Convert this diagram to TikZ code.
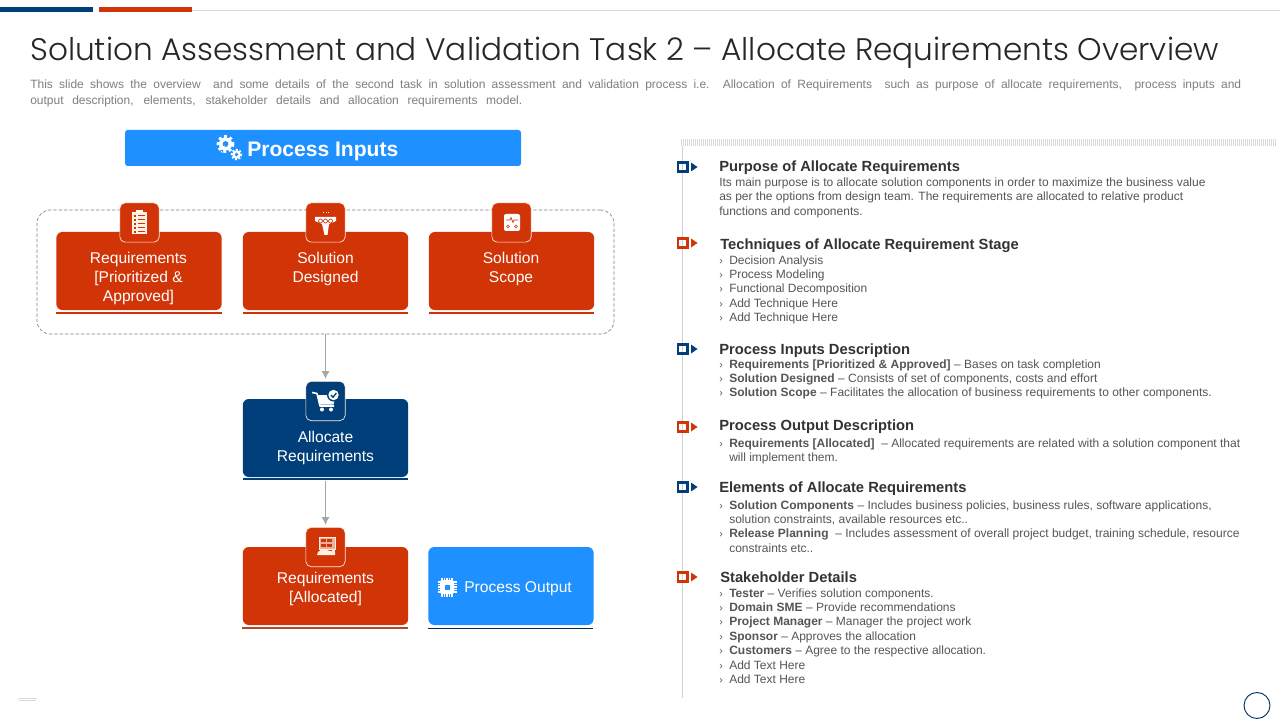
\documentclass[tikz,border=0pt]{standalone}
\usepackage{fontspec}
\setmainfont{Liberation Sans}
\newfontfamily\titlefont{Poppins Light}
\usetikzlibrary{arrows.meta}
\definecolor{navy}{HTML}{003F7A}
\definecolor{brick}{HTML}{D13407}
\definecolor{sky}{HTML}{1E90FF}
\definecolor{bodygray}{HTML}{555555}
\definecolor{headgray}{HTML}{333333}
\definecolor{introgray}{HTML}{7F7F7F}
\definecolor{linkgray}{HTML}{A6A6A6}
\definecolor{rust}{HTML}{B0492B}
\newcommand{\dsp}{\hspace{2.6pt}}
\tikzset{
 x=0.75pt,y=-0.75pt,
 box/.style={rounded corners=4.5pt,minimum width=124pt,minimum height=58.5pt,inner sep=0pt},
 tabbox/.style={rounded corners=4pt,minimum width=29.5pt,minimum height=29.5pt,inner sep=0pt,draw=white!85!orange,line width=0.5pt},
 boxlabel/.style={text=white,align=center,inner sep=0pt,font=\fontsize{11.7}{14.25}\selectfont},
 body/.style={anchor=base west,inner sep=0pt,text=bodygray,font=\fontsize{9}{11}\selectfont},
 heading/.style={anchor=base west,inner sep=0pt,text=headgray,font=\fontsize{11.05}{13}\selectfont\bfseries},
 bul/.style={anchor=base west,inner sep=0pt,text=bodygray,font=\fontsize{8}{10}\selectfont},
 link/.style={draw=linkgray,line width=0.8pt,-{Latex[length=6pt,width=6pt]}},
}
\newcommand{\itm}[3]{\node[bul] (#1b) at (719,#2) {›};\node[body] (#1) at (729,#2) {#3};}
\newcommand{\cont}[3]{\node[body] (#1) at (729,#2) {#3};}
\newcommand{\marker}[3]{\draw[#3,line width=1.8pt] (678,#2-4.5) rectangle (687.5,#2+4.5);\fill[#3] (691,#2-4.5) -- (697.5,#2) -- (691,#2+4.5) -- cycle;}
\newcommand{\gearicon}[4]{\draw[white,line width=#3*0.42pt,dash pattern=on #3*0.28pt off #3*0.28pt] (#1,#2) circle[radius=#3];\fill[white] (#1,#2) circle[radius=#3*0.95];\fill[#4] (#1,#2) circle[radius=#3*0.42];}
\begin{document}
\begin{tikzpicture}
\useasboundingbox (0,0) rectangle (1280,720);
\fill[white] (0,0) rectangle (1280,720);
% top rules
\draw[black!15,line width=0.8pt] (192,10.5) -- (1280,10.5);
\fill[navy] (0,7) rectangle (93,12.5);
\fill[brick] (99,7) rectangle (192,12.5);
% title
\node[anchor=base west,inner sep=0pt,text=black!85] (title) at (30,61) {\titlefont\fontsize{23.36}{28}\selectfont Solution Assessment and Validation Task 2 – Allocate Requirements Overview};
\node[anchor=base west,inner sep=0pt,text=introgray,font=\fontsize{9}{11}\selectfont] (introa) at (30,89) {\makebox[908.25pt][s]{This slide shows the overview\ \ and some details of the second task in solution assessment and validation process i.e. Allocation of Requirements\ \ such as purpose of allocate requirements,\ \ process inputs and}};
\node[anchor=base west,inner sep=0pt,text=introgray,font=\fontsize{9}{11}\selectfont] (introb) at (30,105) {\makebox[369pt][s]{output description, elements, stakeholder details and allocation requirements model.}};
% process inputs header
\node[fill=sky,rounded corners=2pt,minimum width=297pt,minimum height=27pt,inner sep=0pt] (hdr) at (323,148) {};
\node[anchor=base west,inner sep=0pt,text=white,font=\fontsize{15.8}{18}\selectfont\bfseries] (hdrtxt) at (247,157) {Process Inputs};
\gearicon{225.5}{144}{7}{sky}
\gearicon{236.5}{154.5}{4.5}{sky}
\draw[white,line width=0.6pt,dash pattern=on 1.5pt off 1pt] (222,153) arc[start angle=150,end angle=250,radius=5];
% dashed group
\node[draw=black!50,dash pattern=on 2.5pt off 1.5pt,line width=0.5pt,rounded corners=10pt,minimum width=432.75pt,minimum height=93pt,inner sep=0pt] (group) at (325.5,272) {};
% boxes
\node[box,fill=brick] (ra) at (139,271) {};
\node[box,fill=brick] (sd) at (325.5,271) {};
\node[box,fill=brick] (ss) at (511.5,271) {};
\fill[brick] (56,312.4) rectangle (222,313.6);
\fill[brick] (243,312.4) rectangle (408,313.6);
\fill[brick] (429,312.4) rectangle (594,313.6);
\node[tabbox,fill=brick] (ta) at (139.5,222.5) {};
\node[tabbox,fill=brick] (tb) at (325.5,222.5) {};
\node[tabbox,fill=brick] (tc) at (511.5,222.5) {};
\node[boxlabel] (la) at (138.5,278.5) {Requirements\\{[}Prioritized \&\\Approved{]}};
\node[boxlabel] (lb) at (325.5,269) {Solution\\Designed};
\node[boxlabel] (lc) at (511,269) {Solution\\Scope};
% clipboard icon
\fill[white!90!orange] (132,212) rectangle (147,234);
\fill[white] (136,210) rectangle (143,213);
\foreach \yy in {215,219,223,227,231}{\fill[brick] (134,\yy) rectangle (136,\yy+2);\fill[brick] (138,\yy) rectangle (145,\yy+1.2);}
% funnel icon
\fill[white] (315,217) -- (336,217) -- (336,221) -- (329,224) -- (327.5,235) -- (324.5,235) -- (322,224) -- (315,221) -- cycle;
\foreach \xx in {320.5,325.5,330.5}{\draw[brick,line width=0.5pt] (\xx,221) circle[radius=2];}
\fill[white] (323,212.5) rectangle (324,213.5);\fill[white] (325.5,212.5) rectangle (326.5,213.5);\fill[white] (328,212.5) rectangle (329,213.5);
% scope icon
\fill[white,rounded corners=1.5pt] (504,214) rectangle (520,231);
\draw[brick,line width=0.5pt] (506,220) -- (510,220) -- (511,217.5) -- (513,222.5) -- (514,220) -- (518,220);
\draw[brick,line width=0.5pt] (508,226.5) circle[radius=1.5] (516,226.5) circle[radius=1.5];
% allocate
\node[box,fill=navy] (alloc) at (325.5,438) {};
\fill[navy] (243,478.4) rectangle (408,479.6);
\node[tabbox,fill=navy] (talloc) at (325.5,401) {};
\node[boxlabel] (lalloc) at (325.5,448) {Allocate\\Requirements};
% cart
\draw[white,line width=1.2pt,line join=round] (312,392.5) -- (317,393.5) -- (320,406) -- (334,406);
\fill[white] (317,395) -- (336,395) -- (333.5,404.5) -- (319.5,404.5) -- cycle;
\fill[white] (322,409.5) circle[radius=2] (331,409.5) circle[radius=2];
\fill[navy] (333.5,395) circle[radius=6.5];
\fill[white] (333.5,395) circle[radius=5.2];
\draw[navy,line width=1pt] (331,395) -- (333,397.3) -- (336.3,393);
% allocated
\node[box,fill=brick] (rall) at (325.5,586) {};
\fill[rust] (242,626.6) rectangle (408,628.6);
\node[tabbox,fill=brick] (tall) at (325.5,547) {};
\node[boxlabel] (lrall) at (325.5,588.5) {Requirements\\{[}Allocated{]}};
% board icon
\draw[white!85!orange,line width=0.6pt,fill=brick!40!white] (319,537) rectangle (335,549);
\foreach \xx/\yy in {321/539,327/539,321/544,327/544}{\fill[brick] (\xx,\yy) rectangle (\xx+5,\yy+3);}
\fill[white!90!orange] (317,555) -- (335,555) -- (335,552) -- (322,549) -- (318,552) -- cycle;
\fill[white!85!orange] (332,550) rectangle (335,553);
% process output
\node[box,fill=sky] (pout) at (511,586) {};
\fill[navy!70!black] (428,627.5) rectangle (593,628.5);
\foreach \t in {-5,-2.5,0,2.5,5}{\draw[white,line width=0.9pt] (447+\t,577.5) -- (447+\t,596.5) (437.5,587+\t) -- (456.5,587+\t);}
\fill[white,rounded corners=1.5pt] (440,580) rectangle (454,594);
\fill[sky] (444.5,584.5) rectangle (449.5,589.5);
\node[anchor=base west,inner sep=0pt,text=white,font=\fontsize{11.7}{14}\selectfont] (lpout) at (464,592) {Process Output};
% connectors
\draw[link] (group.south) -- ([yshift=1.5pt]talloc.north);
\draw[link] ([yshift=-3pt]alloc.south) -- ([yshift=1.5pt]tall.north);
% right panel
\foreach \xx in {681,683,...,1276}{\draw[black!15,line width=0.5pt] (\xx,139) -- (\xx,146);}
\draw[black!18,line width=0.7pt] (682,146) -- (682,698);
\marker{}{167}{navy}
\marker{}{243}{brick}
\marker{}{349}{navy}
\marker{}{427}{brick}
\marker{}{487}{navy}
\marker{}{577}{brick}
\node[heading] (h1) at (719,172) {Purpose of Allocate Requirements};
\node[body] (p1) at (719,187) {Its main purpose is to allocate solution components in order to maximize the business value};
\node[body] (p2) at (719,201) {as per the options from design team. The requirements are allocated to relative product};
\node[body] (p3) at (719,215) {functions and components.};
\node[heading] (h2) at (720,249) {Techniques of Allocate Requirement Stage};
\itm{t1}{264}{Decision Analysis}
\itm{t2}{278}{Process Modeling}
\itm{t3}{292}{Functional Decomposition}
\itm{t4}{307}{Add Technique Here}
\itm{t5}{321}{Add Technique Here}
\node[heading] (h3) at (719,354) {Process Inputs Description};
\itm{i1}{368}{\textbf{Requirements [Prioritized \& Approved]}\dsp– Bases on task completion}
\itm{i2}{382}{\textbf{Solution\dsp Designed}\dsp– Consists of set of components, costs and effort}
\itm{i3}{396}{\textbf{Solution\dsp Scope}\dsp– Facilitates the allocation of business requirements to other components.}
\node[heading] (h4) at (719,430) {Process Output Description};
\itm{o1}{447}{\textbf{Requirements [Allocated]}\ \ – Allocated requirements are related with a solution component that}
\cont{o2}{461}{will implement them.}
\node[heading] (h5) at (719,492) {Elements of Allocate Requirements};
\itm{e1}{509}{\textbf{Solution\dsp Components}\dsp– Includes business policies, business rules, software applications,}
\cont{e2}{523}{solution constraints, available resources etc..}
\itm{e3}{537}{\textbf{Release Planning}\ \ – Includes assessment of overall project budget, training schedule, resource}
\cont{e4}{552}{constraints etc..}
\node[heading] (h6) at (720,582) {Stakeholder Details};
\itm{s1}{597}{\textbf{Tester} – Verifies solution components.}
\itm{s2}{611}{\textbf{Domain\dsp SME}\dsp– Provide recommendations}
\itm{s3}{625}{\textbf{Project Manager} – Manager the project work}
\itm{s4}{640}{\textbf{Sponsor} – Approves the allocation}
\itm{s5}{654}{\textbf{Customers} – Agree to the respective allocation.}
\itm{s6}{669}{Add Text Here}
\itm{s7}{683}{Add Text Here}
% footer
\draw[navy!80!black,line width=0.7pt] (1257,705.5) circle[radius=13];
\draw[black!15,line width=0.4pt] (18,698.5) -- (37,698.5) (19,700.5) -- (36,700.5);
\end{tikzpicture}
\end{document}
